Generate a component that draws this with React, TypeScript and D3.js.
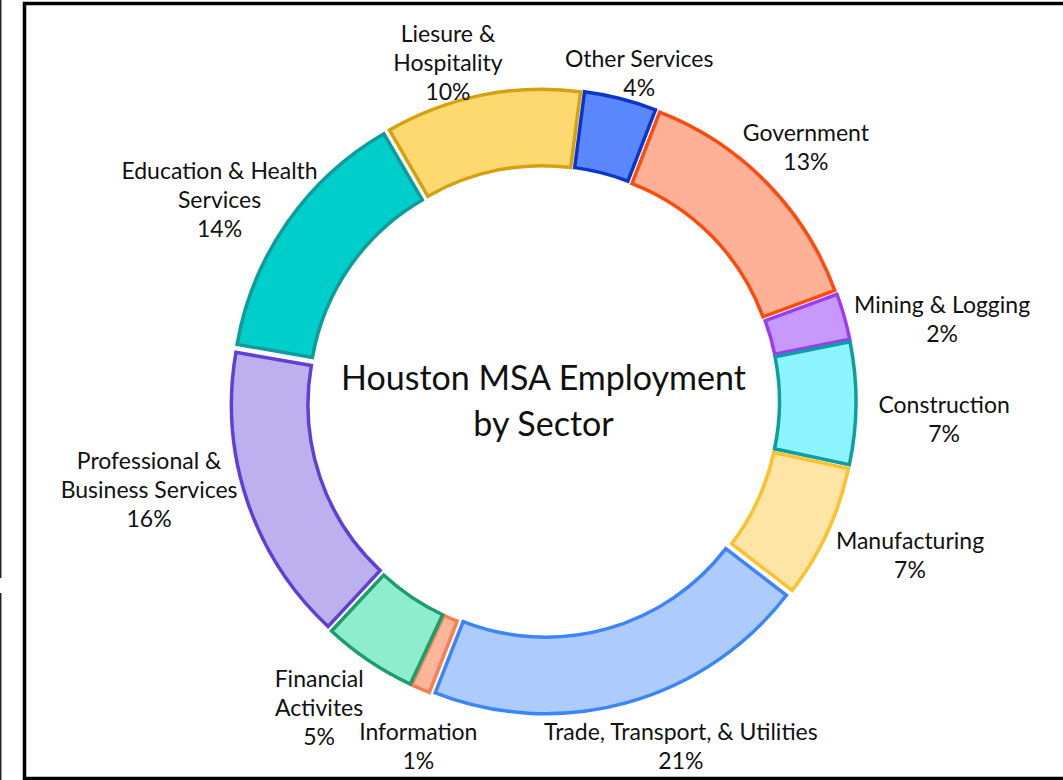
import React from "react";
import * as d3 from "d3";

const categories = [
  "Mining & Logging",
  "Construction",
  "Manufacturing",
  "Trade, Transport, & Utilities",
  "Information",
  "Financial Activites",
  "Professional & Business Services",
  "Education & Health Services",
  "Liesure & Hospitality",
  "Other Services",
  "Government",
];
// estimated shares (%)
const shares = [2.45, 6.5, 7.1, 20.5, 1.0, 5.0, 15.8, 13.9, 10.4, 3.85, 13.5];
// percentages as printed in the labels
const pctLabels = ["2%", "7%", "7%", "21%", "1%", "5%", "16%", "14%", "10%", "4%", "13%"];
const labelLines = [
  ["Mining & Logging"],
  ["Construction"],
  ["Manufacturing"],
  ["Trade, Transport, & Utilities"],
  ["Information"],
  ["Financial", "Activites"],
  ["Professional &", "Business Services"],
  ["Education & Health", "Services"],
  ["Liesure &", "Hospitality"],
  ["Other Services"],
  ["Government"],
];
const fills = [
  "#C899FC", "#8CF4FC", "#FEE5A6", "#AECBFD", "#FDB59C", "#8EEDCC",
  "#BDB0EE", "#00CECB", "#FED970", "#5B87FD", "#FEB196",
];
const strokes = [
  "#9A3CF5", "#0E9DA3", "#FDC12B", "#3A85F9", "#FA7E50", "#1C9E6C",
  "#5F3FD6", "#0E9C9A", "#D4A10F", "#0A35C8", "#FC4B0C",
];
// label placement (polar, relative to donut centre): angle in degrees clockwise from 12 o'clock, radius px
const labelAngle = [78.3, 92.4, 112.6, 158.2, 200, 216.3, 257.5, 302, 344.3, 16.2, 45.8];
const labelRadius = [407, 401, 397, 370, 366, 379, 404, 382, 353, 343, 366];

const W = 1063;
const H = 780;
const CX = 543.5;
const CY = 401.5;
const R_OUT = 303.5;
const R_IN = 227;
const EXPLODE = 9;
const START_DEG = 69.8;
const LINE_H = 29;

export default function App() {
  const pie = d3
    .pie<number>()
    .sort(null)
    .value((d) => d)
    .startAngle((START_DEG * Math.PI) / 180)
    .endAngle((START_DEG * Math.PI) / 180 + 2 * Math.PI);
  const arcs = pie(shares);
  const arcGen = d3.arc<d3.PieArcDatum<number>>().innerRadius(R_IN).outerRadius(R_OUT);

  return (
    <svg
      width={W}
      height={H}
      style={{ position: "absolute", left: 0, top: 0, background: "#fff" }}
      fontFamily="Lato, 'Open Sans', sans-serif"
    >
      <rect x={0} y={0} width={W} height={H} fill="#fff" />
      {/* partial frames */}
      <line x1={0.7} y1={0} x2={0.7} y2={578} stroke="#222" strokeWidth={1.5} />
      <line x1={0.7} y1={593} x2={0.7} y2={780} stroke="#222" strokeWidth={1.5} />
      <path d={`M ${W + 10} 3.5 H 24.5 V 778.5 H ${W + 10}`} fill="none" stroke="#000" strokeWidth={3.5} />

      <g transform={`translate(${CX},${CY})`}>
        {arcs.map((a, i) => {
          const mid = (a.startAngle + a.endAngle) / 2;
          const dx = EXPLODE * Math.sin(mid);
          const dy = -EXPLODE * Math.cos(mid);
          return (
            <path
              key={categories[i]}
              d={arcGen(a) || ""}
              transform={`translate(${dx},${dy})`}
              fill={fills[i]}
              stroke={strokes[i]}
              strokeWidth={3.5}
              strokeLinejoin="miter"
            />
          );
        })}
        {arcs.map((a, i) => {
          const ang = (labelAngle[i] * Math.PI) / 180;
          const x = labelRadius[i] * Math.sin(ang);
          const y = -labelRadius[i] * Math.cos(ang);
          const lines = [...labelLines[i], pctLabels[i]];
          const n = lines.length;
          return (
            <text key={"l" + i} textAnchor="middle" fontSize={23} fill="#111">
              {lines.map((t, k) => (
                <tspan key={k} x={x} y={y + (k - (n - 1) / 2) * LINE_H} dominantBaseline="central">
                  {t}
                </tspan>
              ))}
            </text>
          );
        })}
        <text textAnchor="middle" fontSize={34} fill="#111">
          <tspan x={0} y={-25} dominantBaseline="central">Houston MSA Employment</tspan>
          <tspan x={0} y={21} dominantBaseline="central">by Sector</tspan>
        </text>
      </g>
    </svg>
  );
}
